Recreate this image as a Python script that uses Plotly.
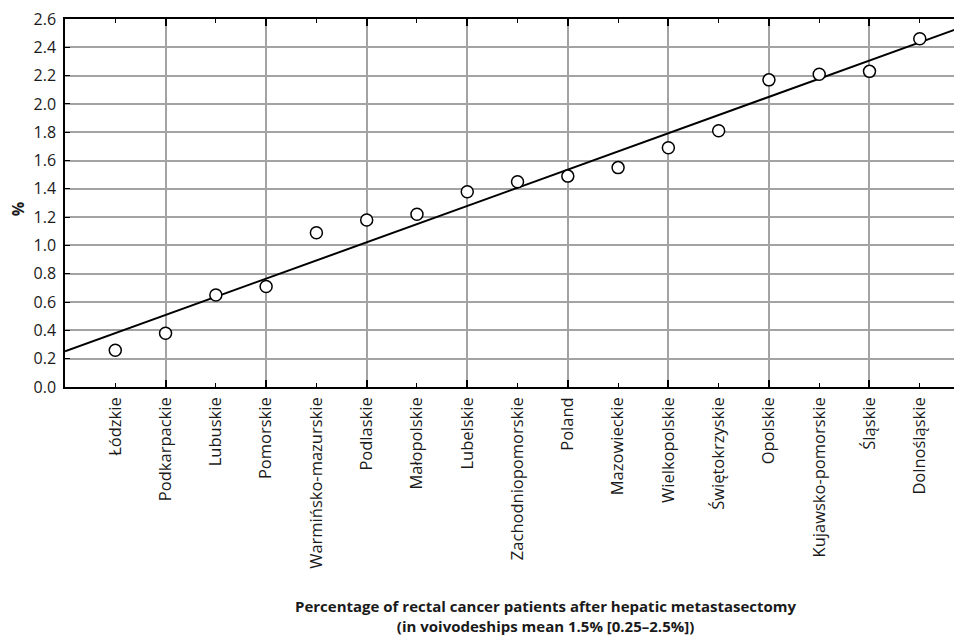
import numpy as np
import plotly.graph_objects as go

regions = ["Łódzkie", "Podkarpackie", "Lubuskie", "Pomorskie", "Warmińsko-mazurskie",
           "Podlaskie", "Małopolskie", "Lubelskie", "Zachodniopomorskie", "Poland",
           "Mazowieckie", "Wielkopolskie", "Świętokrzyskie", "Opolskie",
           "Kujawsko-pomorskie", "Śląskie", "Dolnośląskie"]
percent = [0.26, 0.38, 0.65, 0.71, 1.09, 1.18, 1.22, 1.38, 1.45, 1.49,
           1.55, 1.69, 1.81, 2.17, 2.21, 2.23, 2.46]
y_ticks = [0.0, 0.2, 0.4, 0.6, 0.8, 1.0, 1.2, 1.4, 1.6, 1.8, 2.0, 2.2, 2.4, 2.6]

pos = list(range(1, len(regions) + 1))
x_range = [0, 17.8]
slope, intercept = np.polyfit(pos, percent, 1)
fit_x = np.array(x_range)
fit_y = intercept + slope * fit_x

FONT = "Open Sans"
GRID = "#a3a3a3"

fig = go.Figure()
fig.add_trace(go.Scatter(x=fit_x, y=fit_y, mode="lines",
                         line=dict(color="black", width=2), showlegend=False,
                         hoverinfo="skip"))
fig.add_trace(go.Scatter(x=pos, y=percent, mode="markers",
                         marker=dict(symbol="circle", size=12, color="white",
                                     line=dict(color="black", width=1.5)),
                         showlegend=False))
# invisible trace on secondary x axis that carries the vertical grid
fig.add_trace(go.Scatter(x=pos, y=percent, xaxis="x2", mode="markers",
                         marker=dict(opacity=0), showlegend=False, hoverinfo="skip"))

fig.update_layout(
    width=954, height=633,
    margin=dict(l=57, r=0, t=8, b=254),
    paper_bgcolor="white", plot_bgcolor="white",
    font=dict(family=FONT, size=16, color="#1a1a1a"),
    xaxis=dict(range=x_range, tickmode="array", tickvals=pos, ticktext=regions,
               tickangle=-90, ticks="inside", ticklen=4, tickcolor="black",
               showgrid=False, zeroline=False, showline=True, linecolor="black",
               linewidth=1.5, mirror="ticks", tickfont=dict(size=16.5),
               ticklabelstandoff=2, ticklabeloverflow="allow"),
    xaxis2=dict(range=x_range, overlaying="x", side="bottom",
                tickmode="array", tickvals=pos[1::2], showticklabels=False,
                ticks="inside", ticklen=7, tickcolor="black", tickwidth=1.5,
                showgrid=True, gridcolor=GRID, gridwidth=1.5,
                zeroline=False, showline=False, mirror="ticks"),
    yaxis=dict(range=[0, 2.6], tickmode="array", tickvals=y_ticks,
               ticktext=[f"{v:.1f}" for v in y_ticks],
               ticks="inside", ticklen=5, tickcolor="black",
               showgrid=True, gridcolor=GRID, gridwidth=1.5,
               zeroline=False, showline=True, linecolor="black", linewidth=1.5,
               mirror="ticks", tickfont=dict(size=16), ticklabelstandoff=4,
               ticklabeloverflow="allow"),
    annotations=[
        dict(text="<b>%</b>", xref="paper", yref="paper", x=-0.0515, y=0.4825,
             xanchor="center", yanchor="middle", showarrow=False, textangle=-90,
             font=dict(size=16)),
        dict(text="<b>Percentage of rectal cancer patients after hepatic metastasectomy</b><br>"
                  "<b>(in voivodeships mean 1.5% [0.25–2.5%])</b>",
             xref="paper", yref="paper", x=0.537, y=-0.623,
             xanchor="center", yanchor="middle", showarrow=False,
             font=dict(size=15), align="center"),
    ],
)

fig.write_html("out.html")
